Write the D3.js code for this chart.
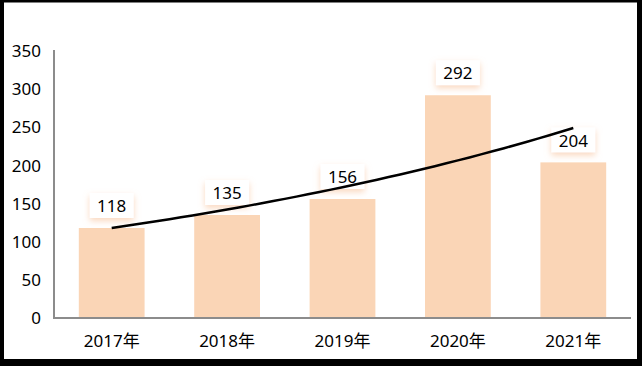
<!DOCTYPE html>
<html>
<head>
<meta charset="utf-8">
<script src="https://cdn.jsdelivr.net/npm/d3@7"></script>
<style>
  html, body { margin: 0; padding: 0; background: #fff; }
  svg { display: block; }
  text { font-family: "Noto Sans", "Noto Sans CJK SC", sans-serif; fill: #000; }
</style>
</head>
<body>
<svg id="chart" width="642" height="366"></svg>
<script>
const years = ["2017年", "2018年", "2019年", "2020年", "2021年"];
const values = [118, 135, 156, 292, 204];
const yTicks = [0, 50, 100, 150, 200, 250, 300, 350];

const W = 642, H = 366;
const svg = d3.select("#chart");

const x = d3.scaleBand().domain(years).range([54, 631]).paddingInner(0.43).paddingOuter(0.215);
const y = d3.scaleLinear().domain([0, 350]).range([318, 51]);

// glow for data label boxes
const defs = svg.append("defs");
const f = defs.append("filter").attr("id", "glow").attr("x", "-40%").attr("y", "-40%").attr("width", "180%").attr("height", "200%");
f.append("feDropShadow").attr("dx", 0).attr("dy", 3).attr("stdDeviation", 3)
  .attr("flood-color", "#f6b88a").attr("flood-opacity", 0.55);

// y tick labels
svg.append("g").selectAll("text")
  .data(yTicks).enter().append("text")
  .attr("x", 41).attr("y", d => y(d))
  .attr("dy", "0.36em")
  .attr("text-anchor", "end")
  .attr("font-size", 17)
  .text(d => d);

// bars
svg.append("g").selectAll("rect")
  .data(values).enter().append("rect")
  .attr("x", (d, i) => x(years[i]))
  .attr("width", x.bandwidth())
  .attr("y", d => y(d))
  .attr("height", d => y(0) - y(d))
  .attr("fill", "#fad5b6");

// axes lines
svg.append("line").attr("x1", 54).attr("x2", 54).attr("y1", 50).attr("y2", 319)
  .attr("stroke", "#8c8c8c").attr("stroke-width", 2);
svg.append("line").attr("x1", 53).attr("x2", 631).attr("y1", y(0)).attr("y2", y(0))
  .attr("stroke", "#8c8c8c").attr("stroke-width", 2);

// category labels
svg.append("g").selectAll("text")
  .data(years).enter().append("text")
  .attr("x", d => x(d) + x.bandwidth() / 2)
  .attr("y", 341)
  .attr("dy", "0.36em")
  .attr("text-anchor", "middle")
  .attr("font-size", 17)
  .text(d => d);

// data labels
const lab = svg.append("g").selectAll("g")
  .data(values).enter().append("g")
  .attr("transform", (d, i) => `translate(${x(years[i]) + x.bandwidth() / 2},${y(d) - 22})`);
lab.append("rect")
  .attr("x", -22).attr("y", -13).attr("width", 44).attr("height", 25)
  .attr("fill", "#fff").attr("filter", "url(#glow)");
lab.append("text")
  .attr("text-anchor", "middle")
  .attr("dy", "0.36em")
  .attr("font-size", 17)
  .text(d => d);

// exponential trendline fitted to the bar values (drawn over the labels)
const xs = values.map((d, i) => i + 1);
const ln = values.map(d => Math.log(d));
const mx = d3.mean(xs), ml = d3.mean(ln);
const b = d3.sum(xs, (v, i) => (v - mx) * (ln[i] - ml)) / d3.sum(xs, v => (v - mx) * (v - mx));
const a = ml - b * mx;
const xPos = d3.scaleLinear().domain([1, 5])
  .range([x(years[0]) + x.bandwidth() / 2, x(years[4]) + x.bandwidth() / 2]);
const trend = d3.range(1, 5.001, 0.1).map(t => [t, Math.exp(a + b * t)]);
svg.append("path")
  .datum(trend)
  .attr("d", d3.line().x(d => xPos(d[0])).y(d => y(d[1])))
  .attr("fill", "none")
  .attr("stroke", "#000")
  .attr("stroke-width", 2.5);

// outer frame
svg.append("rect").attr("x", 0).attr("y", 0).attr("width", W).attr("height", 2.5).attr("fill", "#000");
svg.append("rect").attr("x", 0).attr("y", 0).attr("width", 4).attr("height", H).attr("fill", "#000");
svg.append("rect").attr("x", 637).attr("y", 0).attr("width", 5).attr("height", H).attr("fill", "#000");
svg.append("rect").attr("x", 0).attr("y", 359).attr("width", W).attr("height", 7).attr("fill", "#000");
</script>
</body>
</html>
